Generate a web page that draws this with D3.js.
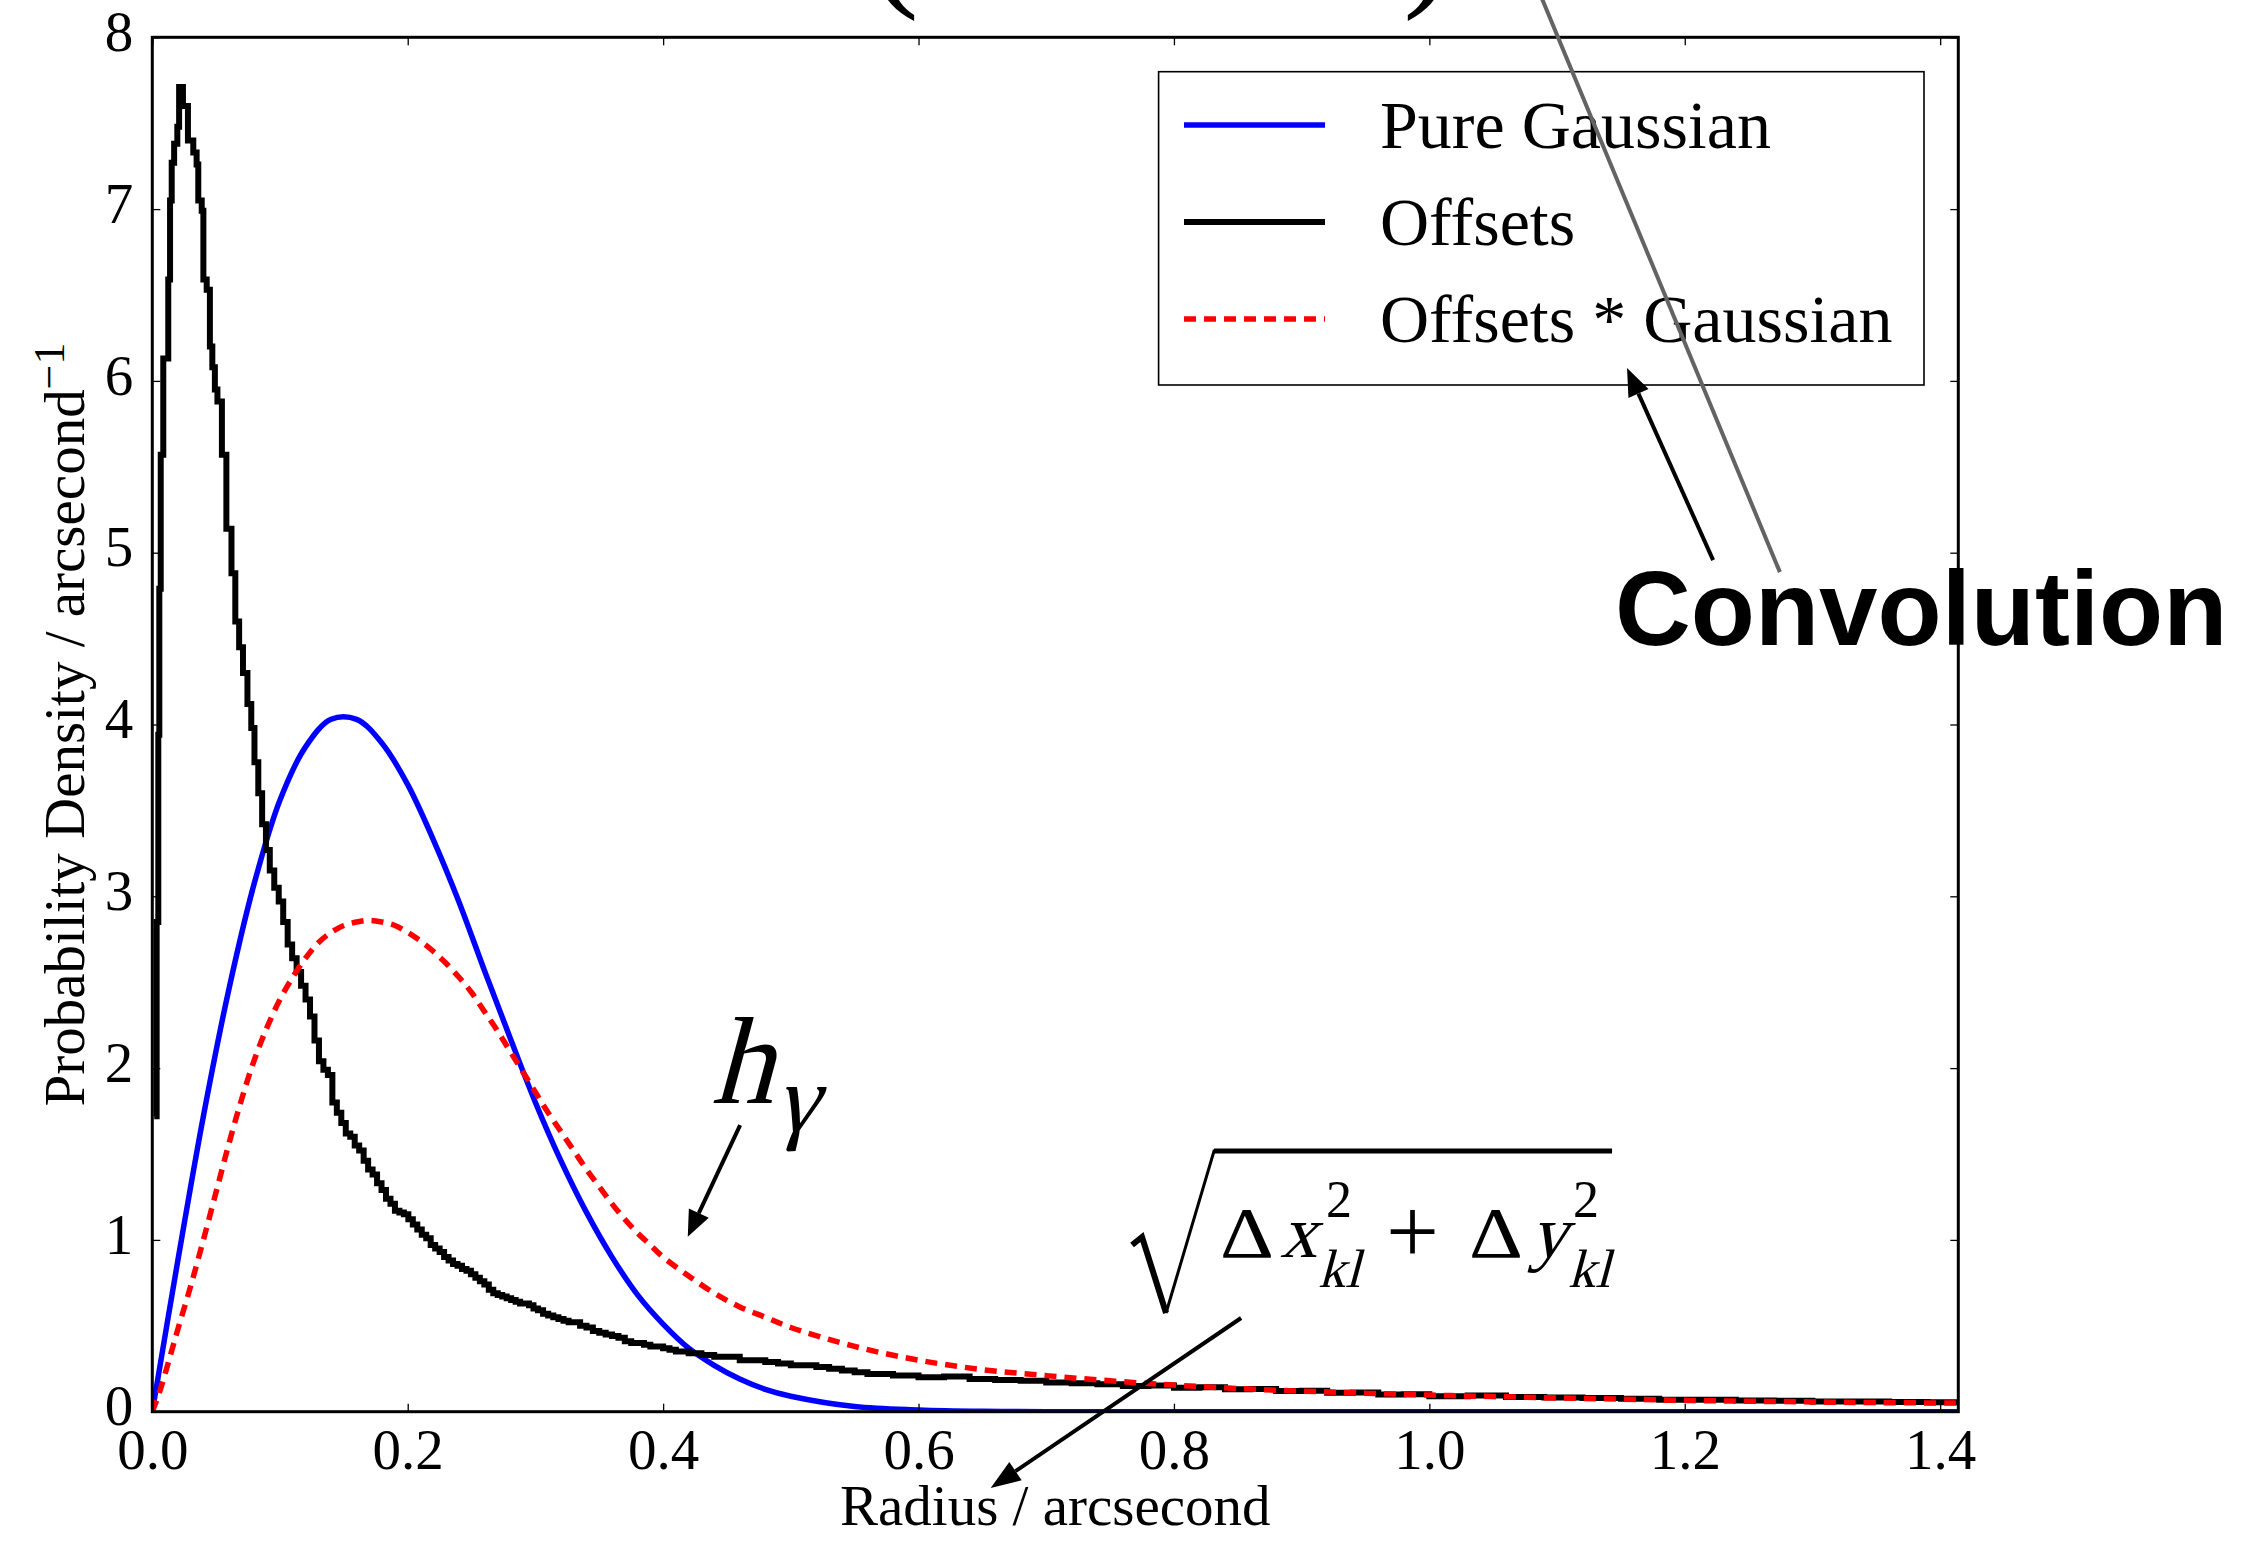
<!DOCTYPE html>
<html>
<head>
<meta charset="utf-8">
<script src="https://cdn.jsdelivr.net/npm/d3@7"></script>
<style>
  body { margin: 0; background: #fff; }
  svg text { font-family: "Liberation Serif", "Times New Roman", serif; fill: #000; }
</style>
</head>
<body>
<div id="chart"></div>
<script>
// tick values and legend names
var xTicks = [0, 0.2, 0.4, 0.6, 0.8, 1.0, 1.2, 1.4];
var yTicks = [0, 1, 2, 3, 4, 5, 6, 7, 8];
var seriesNames = ["Pure Gaussian", "Offsets", "Offsets * Gaussian"];

// [radius, density]
var gaussianPts = [[0, 0], [0.02, 0.88], [0.04, 1.72], [0.06, 2.46], [0.08, 3.08], [0.10, 3.56],
  [0.12, 3.87], [0.14, 4.03], [0.16, 4.03], [0.18, 3.89], [0.20, 3.65], [0.22, 3.33],
  [0.24, 2.97], [0.26, 2.57], [0.28, 2.18], [0.30, 1.80], [0.32, 1.46], [0.34, 1.16], [0.36, 0.90],
  [0.38, 0.68], [0.40, 0.51], [0.42, 0.37], [0.44, 0.27], [0.46, 0.19], [0.48, 0.13], [0.50, 0.09],
  [0.55, 0.03], [0.60, 0.01], [0.65, 0.002], [0.70, 0], [1.0, 0], [1.4142, 0]];

// histogram, left bin edge -> value
var offsetsPts = [[0.0015, 1.72], [0.0034, 2.85], [0.0047, 3.94], [0.0055, 4.79], [0.0066, 5.57],
  [0.0086, 6.13], [0.0125, 6.59], [0.0139, 7.05], [0.0152, 7.27], [0.0171, 7.38], [0.0196, 7.48],
  [0.0210, 7.71], [0.0240, 7.60], [0.0279, 7.40], [0.0321, 7.33], [0.0347, 7.26], [0.0360, 7.05],
  [0.0387, 6.99], [0.0400, 6.59], [0.0426, 6.53], [0.0451, 6.20], [0.0470, 6.08], [0.0490, 5.95],
  [0.0510, 5.88], [0.0545, 5.57], [0.0580, 5.14], [0.0620, 4.88], [0.0650, 4.60], [0.0680, 4.45],
  [0.0710, 4.30], [0.0745, 4.12], [0.0775, 3.98], [0.0800, 3.78], [0.0830, 3.60], [0.0860, 3.42],
  [0.0890, 3.27], [0.0920, 3.15], [0.0955, 3.05], [0.0990, 2.97], [0.1025, 2.85], [0.1060, 2.72],
  [0.1095, 2.64], [0.1130, 2.56], [0.1165, 2.48], [0.1200, 2.40], [0.1235, 2.30], [0.1270, 2.16],
  [0.1305, 2.04], [0.1340, 1.99], [0.1375, 1.96], [0.1410, 1.80], [0.1445, 1.74], [0.1480, 1.68],
  [0.1515, 1.62], [0.1550, 1.60], [0.1585, 1.55], [0.1620, 1.52], [0.1655, 1.46], [0.1690, 1.41],
  [0.1725, 1.38], [0.1760, 1.33], [0.1795, 1.29], [0.1830, 1.24], [0.1865, 1.21], [0.1900, 1.17],
  [0.1935, 1.16], [0.1970, 1.15], [0.2005, 1.12], [0.2040, 1.09], [0.2075, 1.06], [0.2110, 1.03],
  [0.2145, 1.01], [0.2180, 0.97], [0.2215, 0.95], [0.2250, 0.93], [0.2285, 0.90], [0.2320, 0.88],
  [0.2355, 0.86], [0.2390, 0.85], [0.2425, 0.83], [0.2460, 0.82], [0.2495, 0.80], [0.2530, 0.78],
  [0.2565, 0.76], [0.2600, 0.74], [0.2635, 0.71], [0.2670, 0.69], [0.2705, 0.68], [0.2740, 0.67],
  [0.2775, 0.66], [0.2810, 0.65], [0.2845, 0.64], [0.2880, 0.63], [0.2915, 0.63], [0.2950, 0.62],
  [0.2985, 0.60], [0.302, 0.59], [0.306, 0.57], [0.310, 0.56], [0.314, 0.55], [0.318, 0.54],
  [0.322, 0.53], [0.326, 0.52], [0.330, 0.52], [0.335, 0.50], [0.340, 0.49], [0.345, 0.47],
  [0.350, 0.46], [0.355, 0.45], [0.360, 0.44], [0.365, 0.43], [0.370, 0.41], [0.375, 0.40],
  [0.380, 0.40], [0.385, 0.39], [0.390, 0.38], [0.395, 0.38], [0.400, 0.37], [0.405, 0.36],
  [0.410, 0.35], [0.415, 0.35], [0.420, 0.34], [0.430, 0.33], [0.440, 0.32], [0.450, 0.32],
  [0.460, 0.30], [0.470, 0.30], [0.480, 0.29], [0.490, 0.28], [0.500, 0.27], [0.510, 0.27],
  [0.520, 0.26], [0.530, 0.25], [0.540, 0.24], [0.550, 0.23], [0.560, 0.22], [0.570, 0.22],
  [0.580, 0.21], [0.590, 0.21], [0.600, 0.20], [0.620, 0.205], [0.640, 0.19], [0.660, 0.185],
  [0.680, 0.18], [0.700, 0.17], [0.720, 0.165], [0.740, 0.16], [0.760, 0.15], [0.780, 0.152],
  [0.800, 0.14], [0.820, 0.142], [0.840, 0.13], [0.860, 0.132], [0.880, 0.12], [0.900, 0.122],
  [0.920, 0.11], [0.940, 0.112], [0.960, 0.10], [0.980, 0.102], [1.000, 0.09], [1.030, 0.094],
  [1.060, 0.085], [1.090, 0.082], [1.120, 0.08], [1.150, 0.076], [1.180, 0.07], [1.210, 0.07],
  [1.240, 0.065], [1.270, 0.064], [1.300, 0.06], [1.330, 0.06], [1.360, 0.056], [1.390, 0.055],
  [1.4142, 0.055]];

var convolvedPts = [[0, 0], [0.005, 0.10], [0.01, 0.22], [0.015, 0.35], [0.02, 0.48], [0.03, 0.73],
  [0.04, 1.00], [0.05, 1.28], [0.06, 1.56], [0.07, 1.82], [0.08, 2.05], [0.09, 2.24], [0.10, 2.40],
  [0.11, 2.53], [0.12, 2.64], [0.13, 2.73], [0.14, 2.79], [0.15, 2.83], [0.16, 2.85], [0.17, 2.86],
  [0.18, 2.85], [0.19, 2.83], [0.20, 2.79], [0.21, 2.74], [0.22, 2.68], [0.23, 2.61], [0.24, 2.53],
  [0.25, 2.44], [0.26, 2.33], [0.27, 2.22], [0.28, 2.10], [0.29, 1.98], [0.30, 1.86], [0.31, 1.74],
  [0.32, 1.63], [0.33, 1.52], [0.34, 1.41], [0.35, 1.31], [0.36, 1.21], [0.37, 1.12], [0.38, 1.04],
  [0.39, 0.97], [0.40, 0.90], [0.42, 0.79], [0.44, 0.69], [0.46, 0.61], [0.48, 0.55], [0.50, 0.49],
  [0.55, 0.38], [0.60, 0.30], [0.65, 0.245], [0.70, 0.21], [0.75, 0.18], [0.80, 0.155], [0.85, 0.135],
  [0.90, 0.12], [0.95, 0.108], [1.00, 0.097], [1.05, 0.088], [1.10, 0.08], [1.15, 0.073],
  [1.20, 0.066], [1.25, 0.061], [1.30, 0.057], [1.35, 0.053], [1.4142, 0.05]];

window.addEventListener('DOMContentLoaded', function () {

  var width = 2254,
    height = 1556;
  var margin = { top: 37.3, right: 295.7, bottom: 144.3, left: 152.3 };
  var serif = '"Liberation Serif", "Times New Roman", serif';

  var x = d3.scaleLinear().domain([0, 1.4142]).range([margin.left, width - margin.right]);
  var y = d3.scaleLinear().domain([0, 8]).range([height - margin.bottom, margin.top]);

  var svg = d3.select("#chart").append("svg")
    .attr("width", width)
    .attr("height", height)
    .style("display", "block");

  svg.append("defs").append("clipPath")
    .attr("id", "plotclip")
    .append("rect")
    .attr("x", margin.left)
    .attr("y", margin.top)
    .attr("width", width - margin.left - margin.right)
    .attr("height", height - margin.top - margin.bottom);

  // curves
  var smooth = d3.line()
    .x(function (d) { return x(d[0]); })
    .y(function (d) { return y(d[1]); })
    .curve(d3.curveCatmullRom.alpha(0.5));

  var steps = d3.line()
    .x(function (d) { return x(d[0]); })
    .y(function (d) { return y(d[1]); })
    .curve(d3.curveStepAfter);

  var plot = svg.append("g").attr("clip-path", "url(#plotclip)");

  plot.append("path")
    .datum(gaussianPts)
    .attr("d", smooth)
    .attr("fill", "none")
    .attr("stroke", "#0000ff")
    .attr("stroke-width", 5.5);

  plot.append("path")
    .datum(offsetsPts)
    .attr("d", steps)
    .attr("fill", "none")
    .attr("stroke", "#000")
    .attr("stroke-width", 6)
    .attr("stroke-linejoin", "miter");

  plot.append("path")
    .datum(convolvedPts)
    .attr("d", smooth)
    .attr("fill", "none")
    .attr("stroke", "#ff0000")
    .attr("stroke-width", 5.5)
    .attr("stroke-dasharray", "12,8");

  // axes, ticks pointing inwards on all four sides
  var fmt = d3.format(".1f");
  var gx = svg.append("g")
    .attr("transform", "translate(0," + y(0) + ")")
    .call(d3.axisBottom(x).tickValues(xTicks).tickSize(-8).tickPadding(17).tickFormat(fmt));
  var gy = svg.append("g")
    .attr("transform", "translate(" + x(0) + ",0)")
    .call(d3.axisLeft(y).tickValues(yTicks).tickSize(-8).tickPadding(19).tickFormat(d3.format("d")));
  svg.append("g")
    .attr("transform", "translate(0," + y(8) + ")")
    .call(d3.axisTop(x).tickValues(xTicks).tickSize(-8).tickFormat(""));
  svg.append("g")
    .attr("transform", "translate(" + x(1.4142) + ",0)")
    .call(d3.axisRight(y).tickValues(yTicks).tickSize(-8).tickFormat(""));

  svg.selectAll(".domain").remove();
  svg.selectAll(".tick line").attr("stroke", "#000").attr("stroke-width", 1.3);
  svg.selectAll(".tick text")
    .style("font-family", serif)
    .style("font-size", "57px")
    .attr("fill", "#000");
  gy.selectAll(".tick text").attr("dy", "0.23em");

  // frame
  svg.append("rect")
    .attr("x", x(0))
    .attr("y", y(8))
    .attr("width", x(1.4142) - x(0))
    .attr("height", y(0) - y(8))
    .attr("fill", "none")
    .attr("stroke", "#000")
    .attr("stroke-width", 3);

  // axis labels
  svg.append("text")
    .attr("x", (x(0) + x(1.4142)) / 2)
    .attr("y", 1525)
    .attr("text-anchor", "middle")
    .style("font-size", "57px")
    .text("Radius / arcsecond");

  var ylab = svg.append("text")
    .attr("transform", "translate(84," + (y(0) + y(8)) / 2 + ") rotate(-90)")
    .attr("text-anchor", "middle")
    .style("font-size", "57px");
  ylab.append("tspan").text("Probability Density / arcsecond");
  ylab.append("tspan").attr("dy", -20).style("font-size", "44px").text("\u22121");

  // legend
  var legend = svg.append("g");
  legend.append("rect")
    .attr("x", 1158.6).attr("y", 71.7)
    .attr("width", 765.4).attr("height", 313.3)
    .attr("fill", "#fff")
    .attr("stroke", "#000")
    .attr("stroke-width", 1.6);
  var legendStyle = [
    { color: "#0000ff", dash: null, w: 5.5 },
    { color: "#000", dash: null, w: 6 },
    { color: "#ff0000", dash: "12,8", w: 5.5 }
  ];
  seriesNames.forEach(function (name, i) {
    var ly = 125 + i * 97;
    legend.append("line")
      .attr("x1", 1184).attr("x2", 1325)
      .attr("y1", ly).attr("y2", ly)
      .attr("stroke", legendStyle[i].color)
      .attr("stroke-width", legendStyle[i].w)
      .attr("stroke-dasharray", legendStyle[i].dash);
    legend.append("text")
      .attr("x", 1380)
      .attr("y", ly + 23)
      .style("font-size", "68px")
      .text(name);
  });

  // annotations
  var notes = svg.append("g");

  function arrow(from, to, color, headLen, headHalf) {
    var x1 = x(from[0]), y1 = y(from[1]), x2 = x(to[0]), y2 = y(to[1]);
    var ang = Math.atan2(y2 - y1, x2 - x1);
    var bx = x2 - headLen * Math.cos(ang),
      by = y2 - headLen * Math.sin(ang);
    notes.append("line")
      .attr("x1", x1).attr("y1", y1).attr("x2", bx).attr("y2", by)
      .attr("stroke", color).attr("stroke-width", 4);
    notes.append("path")
      .attr("d", "M" + x2 + "," + y2 +
        "L" + (bx + headHalf * Math.sin(ang)) + "," + (by - headHalf * Math.cos(ang)) +
        "L" + (bx - headHalf * Math.sin(ang)) + "," + (by + headHalf * Math.cos(ang)) + "Z")
      .attr("fill", color);
  }

  // math text: serif glyphs, slanted by hand for the italic parts
  function mathText(px, py, str, size, italic, len) {
    var t = notes.append("text")
      .attr("transform", "translate(" + px + "," + py + ")" + (italic ? " skewX(-15)" : ""))
      .style("font-family", serif)
      .style("font-size", size + "px")
      .text(str);
    if (len) t.attr("textLength", len).attr("lengthAdjust", "spacingAndGlyphs");
    return t;
  }

  // grey guide line coming from above the figure
  notes.append("line")
    .attr("x1", x(1.084)).attr("y1", y(8.30))
    .attr("x2", x(1.2745)).attr("y2", y(4.887))
    .attr("stroke", "#636363")
    .attr("stroke-width", 4);

  arrow([1.2222, 4.957], [1.1548, 6.075], "#000", 28, 11);
  notes.append("text")
    .attr("x", x(1.1454))
    .attr("y", y(4.463))
    .style("font-family", '"Liberation Sans", Arial, sans-serif')
    .style("font-weight", "bold")
    .style("font-size", "105px")
    .text("Convolution");

  // h_gamma label
  arrow([0.4603, 1.668], [0.4193, 1.019], "#000", 26, 11);
  var hx = x(0.4438), hy = y(1.797);
  mathText(hx - 8, hy, "h", 124, true);
  mathText(hx + 56, hy + 28, "\u03b3", 96, true);

  // sqrt(dx^2 + dy^2) label
  arrow([0.8526, 0.5454], [0.6565, -0.4441], "#000", 30, 11);
  var sx = x(0.8314), sy = y(1.5175);
  notes.append("path")
    .attr("d", "M" + (sx - 82) + "," + (sy + 94) + "L" + (sx - 72) + "," + (sy + 86) +
      "L" + (sx - 48) + "," + (sy + 162))
    .attr("fill", "none").attr("stroke", "#000").attr("stroke-width", 6);
  notes.append("path")
    .attr("d", "M" + (sx - 48) + "," + (sy + 162) + "L" + sx + "," + sy + "L" + (sx + 398) + "," + sy)
    .attr("fill", "none").attr("stroke", "#000").attr("stroke-width", 3);
  notes.append("line")
    .attr("x1", sx).attr("x2", sx + 398).attr("y1", sy).attr("y2", sy)
    .attr("stroke", "#000").attr("stroke-width", 5);

  var pieces = [
    { t: "\u0394", dx: 6, dy: 106, size: 72, it: false, len: 54 },
    { t: "x", dx: 66, dy: 106, size: 74, it: true },
    { t: "2", dx: 112, dy: 66, size: 52, it: false },
    { t: "kl", dx: 104, dy: 136, size: 54, it: true },
    { t: "+", dx: 172, dy: 112, size: 94, it: false },
    { t: "\u0394", dx: 255, dy: 106, size: 72, it: false, len: 54 },
    { t: "y", dx: 316, dy: 106, size: 74, it: true },
    { t: "2", dx: 359, dy: 66, size: 52, it: false },
    { t: "kl", dx: 354, dy: 136, size: 54, it: true }
  ];
  pieces.forEach(function (p) {
    mathText(sx + p.dx, sy + p.dy, p.t, p.size, p.it, p.len);
  });

  // bottoms of the big parentheses from the formula above the figure
  notes.append("text").attr("x", 869).attr("y", -11).style("font-size", "150px").text("(");
  notes.append("text").attr("x", 1403).attr("y", -11).style("font-size", "150px").text(")");
});
</script>
</body>
</html>
